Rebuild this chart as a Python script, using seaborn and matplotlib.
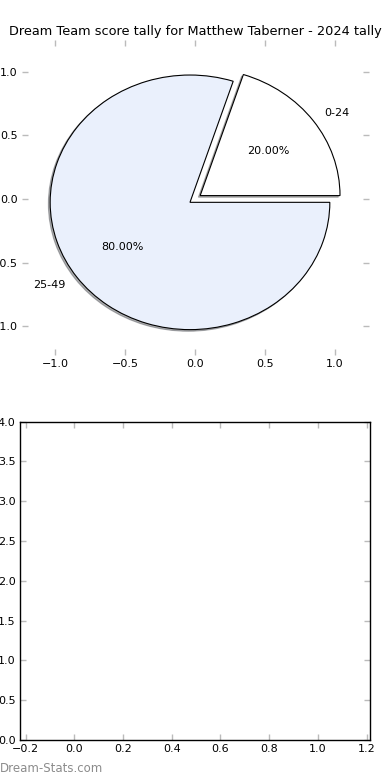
import matplotlib
matplotlib.use("Agg")
import matplotlib.pyplot as plt
import seaborn as sns
import pandas as pd

categories = ["0-24", "25-49"]
shares = [20, 80]
wedge_colors = ["#ffffff", "#eaf0fc"]
explode = [0.045, 0.045]
pie_ticks = [-1.0, -0.5, 0.0, 0.5, 1.0]
bar_xticks = [-0.2, 0.0, 0.2, 0.4, 0.6, 0.8, 1.0, 1.2]
bar_yticks = [0.0, 0.5, 1.0, 1.5, 2.0, 2.5, 3.0, 3.5, 4.0]
title = "Dream Team score tally for Matthew Taberner - 2024 tally"

sns.set_style("white", {
    "xtick.direction": "in", "ytick.direction": "in",
    "axes.edgecolor": "black",
})
plt.rcParams["font.family"] = ["DejaVu Sans"]
plt.rcParams.update({
    "text.color": "black",
    "xtick.color": "#bbbbbb", "ytick.color": "#bbbbbb",
    "xtick.labelcolor": "black", "ytick.labelcolor": "black",
    "xtick.labelsize": 8, "ytick.labelsize": 8,
    "xtick.major.size": 4, "ytick.major.size": 4,
    "xtick.major.width": 1.0, "ytick.major.width": 1.0,
    "xtick.top": True, "ytick.right": True,
    "xtick.bottom": True, "ytick.left": True,
    "xtick.major.pad": 3, "ytick.major.pad": 3,
})

fig = plt.figure(figsize=(3.9, 7.8), dpi=100)
ax1 = fig.add_axes([0.0556, 0.545, 0.891, 0.4036])
ax2 = fig.add_axes([0.0505, 0.0513, 0.898, 0.4081])

df = pd.DataFrame({"category": categories, "share": shares})
ax1.pie(df["share"], labels=df["category"], colors=wedge_colors,
        explode=explode, autopct="%1.2f%%",
        shadow={"ox": -0.009, "oy": -0.009, "shade": 0.6}, frame=False,
        wedgeprops={"edgecolor": "black", "linewidth": 0.8},
        textprops={"fontsize": 8, "color": "black"})
ax1.set_aspect("auto")
ax1.set_xlim(-1.24, 1.245)
ax1.set_ylim(-1.225, 1.248)
ax1.set_xticks(pie_ticks)
ax1.set_yticks(pie_ticks)
ax1.tick_params(which="both", top=True, right=True, left=True, bottom=True)
ax1.set_title(title, fontsize=9.3, pad=4, color="black")

# empty bar chart region
sns.barplot(x=[], y=[], ax=ax2)
ax2.set_xlim(-0.224, 1.214)
ax2.set_ylim(0, 4)
ax2.set_xticks(bar_xticks)
ax2.set_xticklabels([f"{v:.1f}".replace("-", "\u2212") for v in bar_xticks])
ax2.set_yticks(bar_yticks)
ax2.set_yticklabels([f"{v:.1f}" for v in bar_yticks])
for s in ax2.spines.values():
    s.set_visible(True)
    s.set_color("black")
    s.set_linewidth(1.0)
ax2.tick_params(which="both", top=True, right=True, left=True, bottom=True)

fig.text(0.0, 0.007, "Dream-Stats.com", fontsize=8.5, color="#8c8c8c",
         ha="left", va="bottom")

fig.savefig("out.png", dpi=100)
